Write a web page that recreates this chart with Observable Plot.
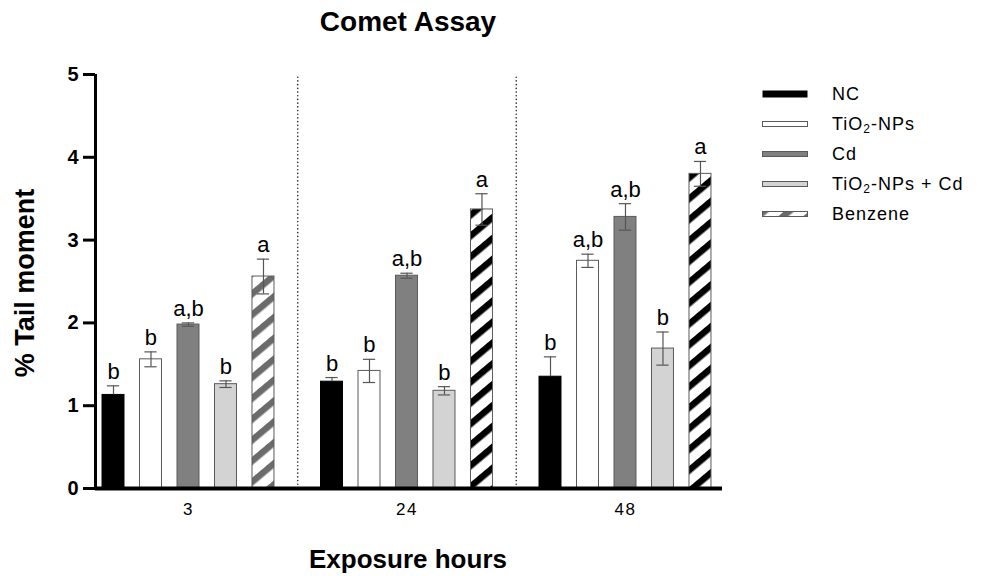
<!DOCTYPE html>
<html>
<head>
<meta charset="utf-8">
<script src="https://cdn.jsdelivr.net/npm/d3@7"></script>
<script src="https://cdn.jsdelivr.net/npm/@observablehq/plot@0.6"></script>
<style>
  html, body { margin: 0; padding: 0; background: #fff; }
  #wrap { position: relative; width: 988px; height: 576px; font-family: "Liberation Sans", Arial, sans-serif; overflow: hidden; }
  #chart { position: absolute; left: 0; top: 0; }
  .title { position: absolute; left: 0; width: 816px; top: 6px; text-align: center; font-weight: bold; font-size: 28px; color: #000; }
  .xlabel { position: absolute; left: 0; width: 816px; top: 544px; text-align: center; font-weight: bold; font-size: 26px; color: #000; }
  .ylabel { position: absolute; left: 25px; top: 283px; transform: translate(-50%, -50%) rotate(-90deg); white-space: nowrap; font-weight: bold; font-size: 27px; color: #000; }
  #legend { position: absolute; left: 762px; top: 79px; }
  .row { display: flex; align-items: center; height: 30px; }
  .row svg { width: 46px; height: 10px; margin-right: 24px; }
  .row span { font-size: 18px; letter-spacing: 1px; color: #000; }
  sub { font-size: 12px; vertical-align: -3px; line-height: 0; }
</style>
</head>
<body>
<div id="wrap">
  <div id="chart"></div>
  <div class="title">Comet Assay</div>
  <div class="xlabel">Exposure hours</div>
  <div class="ylabel">% Tail moment</div>
  <div id="legend"></div>
</div>
<script>
// ---- data ----
const hours = ["3", "24", "48"];
const series = ["NC", "TiO₂-NPs", "Cd", "TiO₂-NPs + Cd", "Benzene"];
const ncMean = [1.13, 1.29, 1.35];
const ncErr = [0.11, 0.05, 0.24];
const tioMean = [1.56, 1.42, 2.75];
const tioErr = [0.09, 0.14, 0.08];
const cdMean = [1.98, 2.57, 3.28];
const cdErr = [0.02, 0.03, 0.16];
const tioCdMean = [1.26, 1.18, 1.69];
const tioCdErr = [0.04, 0.05, 0.20];
const benzMean = [2.56, 3.37, 3.80];
const benzErr = [0.21, 0.19, 0.15];
const ncLetters = ["b", "b", "b"];
const tioLetters = ["b", "b", "a,b"];
const cdLetters = ["a,b", "a,b", "a,b"];
const tioCdLetters = ["b", "b", "b"];
const benzLetters = ["a", "a", "a"];
const yTicks = [0, 1, 2, 3, 4, 5];

// ---- build table ----
const means = [ncMean, tioMean, cdMean, tioCdMean, benzMean];
const errs = [ncErr, tioErr, cdErr, tioCdErr, benzErr];
const letters = [ncLetters, tioLetters, cdLetters, tioCdLetters, benzLetters];
const rows = series.flatMap((s, si) => hours.map((h, hi) => ({
  series: s, si, hour: h, hi,
  mean: means[si][hi], err: errs[si][hi], letter: letters[si][hi]
})));

// styles
const fillOf = d => d.si === 0 ? "#000" : d.si === 1 ? "#fff" : d.si === 2 ? "#808080" : d.si === 3 ? "#d3d3d3"
  : (d.hi === 0 ? "url(#hatchGray)" : "url(#hatchBlack)");
const strokeOf = d => d.si === 0 ? "#000" : "#5a5a5a";

// layout in x units (one unit = one exposure group)
const step = 0.1716, hw = 0.0503, cap = 0.028;
const cx = d => d.hi + (d.si - 2) * step;
const xDomain = [-0.4256, 2.444];

const plot = Plot.plot({
  width: 988,
  height: 576,
  marginLeft: 95,
  marginRight: 266,
  marginTop: 74,
  marginBottom: 88,
  style: { fontFamily: "Liberation Sans, Arial, sans-serif", background: "transparent" },
  x: { domain: xDomain, axis: null },
  y: { domain: [0, 5], axis: null },
  color: { type: "identity" },
  marks: [
    Plot.ruleX(hours.slice(1).map((_, i) => i + 0.5), { y1: 0, y2: 5, stroke: "#333", strokeWidth: 1.6, strokeDasharray: "0.1,3.6", strokeLinecap: "round" }),
    Plot.rectY(rows, { x1: d => cx(d) - hw, x2: d => cx(d) + hw, y1: 0, y2: "mean", fill: fillOf, stroke: strokeOf, strokeWidth: 1 }),
    Plot.ruleX(rows, { x: cx, y1: d => d.si === 0 ? d.mean : d.mean - d.err, y2: d => d.mean + d.err, stroke: "#555", strokeWidth: 1.2 }),
    Plot.ruleY(rows, { y: d => d.mean + d.err, x1: d => cx(d) - cap, x2: d => cx(d) + cap, stroke: "#555", strokeWidth: 1.2 }),
    Plot.ruleY(rows.filter(d => d.si !== 0), { y: d => d.mean - d.err, x1: d => cx(d) - cap, x2: d => cx(d) + cap, stroke: "#555", strokeWidth: 1.2 }),
    Plot.text(rows, { x: cx, y: d => d.mean + d.err, text: "letter", dy: -7, lineAnchor: "bottom", fontSize: 22, fill: "#000" }),
    Plot.ruleY([0], { stroke: "#000", strokeWidth: 4 }),
    Plot.ruleX([xDomain[0]], { y1: 0, y2: 5, stroke: "#000", strokeWidth: 3 }),
    Plot.axisY({ ticks: yTicks, tickSize: 12, tickPadding: 5, strokeWidth: 3, label: null, tickFormat: d => d }),
    Plot.axisX({ ticks: hours.map((_, i) => i), tickFormat: i => hours[i], tickSize: 0, tickPadding: 14, label: null })
  ]
});

// hatch patterns used by the Benzene bars
plot.insertAdjacentHTML("afterbegin",
  '<defs>' +
  '<pattern id="hatchBlack" patternUnits="userSpaceOnUse" width="16" height="16" patternTransform="rotate(-40)">' +
  '<rect width="16" height="16" fill="#fff"/><rect width="16" height="6.5" fill="#000"/></pattern>' +
  '<pattern id="hatchGray" patternUnits="userSpaceOnUse" width="16" height="16" patternTransform="rotate(-40)">' +
  '<rect width="16" height="16" fill="#fff"/><rect width="16" height="6.5" fill="#6b6b6b"/></pattern>' +
  '</defs>');

// enlarge axis tick labels
plot.querySelectorAll("g[aria-label]").forEach(g => {
  const lab = g.getAttribute("aria-label");
  if (/tick label/.test(lab) && /y-axis/.test(lab)) {
    g.querySelectorAll("text").forEach(t => { t.style.fontSize = "20px"; t.style.fontWeight = "bold"; });
  } else if (/tick label/.test(lab) && /x-axis/.test(lab)) {
    g.querySelectorAll("text").forEach(t => { t.style.fontSize = "17px"; t.style.letterSpacing = "1.5px"; });
  }
});
document.getElementById("chart").appendChild(plot);

// legend
const legend = document.getElementById("legend");
const swatch = [
  '<rect x="0.5" y="1.5" width="45" height="7" fill="#000"/>',
  '<rect x="0.5" y="2.5" width="45" height="5" fill="#fff" stroke="#5a5a5a"/>',
  '<rect x="0.5" y="2.5" width="45" height="5" fill="#808080" stroke="#5a5a5a"/>',
  '<rect x="0.5" y="2.5" width="45" height="5" fill="#d3d3d3" stroke="#5a5a5a"/>',
  '<rect x="0.5" y="2.5" width="45" height="5" fill="url(#hatchGray)" stroke="#5a5a5a"/>'
];
series.forEach((s, i) => {
  const row = document.createElement("div");
  row.className = "row";
  row.innerHTML = '<svg viewBox="0 0 46 10">' + swatch[i] + '</svg><span>' + s.replace(/₂/g, "<sub>2</sub>") + '</span>';
  legend.appendChild(row);
});
</script>
</body>
</html>
